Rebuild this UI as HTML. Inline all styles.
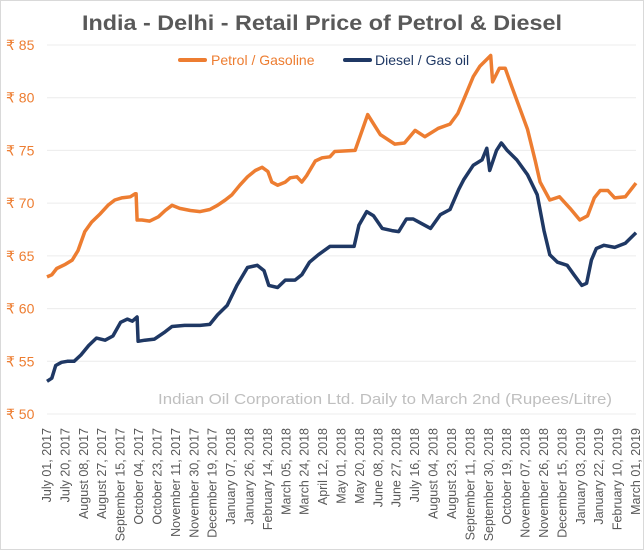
<!DOCTYPE html>
<html><head><meta charset="utf-8"><style>
body{margin:0;background:#fff}
svg{display:block;font-family:"Liberation Sans",sans-serif}
</style></head><body>
<svg id="chart" width="644" height="550" viewBox="0 0 644 550" xmlns="http://www.w3.org/2000/svg">
<rect x="0.5" y="0.5" width="643" height="549" fill="#fff" stroke="#d9d9d9"/>
<text x="82" y="30" textLength="480" lengthAdjust="spacingAndGlyphs" font-size="21" font-weight="bold" fill="#595959">India - Delhi - Retail Price of Petrol &amp; Diesel</text>
<g id="grid"></g><g id="ylab"></g><g id="xlab"></g>
<text x="158" y="404" textLength="454" lengthAdjust="spacingAndGlyphs" font-size="15" fill="#bfbfbf">Indian Oil Corporation Ltd. Daily to March 2nd (Rupees/Litre)</text>
<g id="series"></g>
<g>
<line x1="180" y1="60" x2="205" y2="60" stroke="#ED7D31" stroke-width="4" stroke-linecap="round"/>
<text x="211" y="65" font-size="14" fill="#ED7D31">Petrol / Gasoline</text>
<line x1="345" y1="60" x2="370" y2="60" stroke="#1F3864" stroke-width="4" stroke-linecap="round"/>
<text x="375" y="65" font-size="14" fill="#1F3864">Diesel / Gas oil</text>
</g>
</svg>
<script>
const yTicks=[50,55,60,65,70,75,80,85];
const xTickLabels=["July 01, 2017","July 20, 2017","August 08, 2017","August 27, 2017","September 15, 2017","October 04, 2017","October 23, 2017","November 11, 2017","November 30, 2017","December 19, 2017","January 07, 2018","January 26, 2018","February 14, 2018","March 05, 2018","March 24, 2018","April 12, 2018","May 01, 2018","May 20, 2018","June 08, 2018","June 27, 2018","July 16, 2018","August 04, 2018","August 23, 2018","September 11, 2018","September 30, 2018","October 19, 2018","November 07, 2018","November 26, 2018","December 15, 2018","January 03, 2019","January 22, 2019","February 10, 2019","March 01, 2019"];
const petrolDays=[0,5,10,19,26,32,39,46,55,63,70,77,86,91,92,93,98,106,115,122,129,137,148,158,168,176,184,191,199,207,215,222,228,232,238,246,251,258,263,268,277,284,292,297,318,331,344,359,369,380,390,404,416,424,431,440,447,458,460,467,473,480,488,496,504,509,519,529,540,550,558,565,571,579,586,597,608];
const petrolVals=[63.0,63.2,63.8,64.2,64.6,65.5,67.3,68.2,69.0,69.8,70.3,70.5,70.6,70.9,70.9,68.4,68.4,68.3,68.7,69.3,69.8,69.5,69.3,69.2,69.4,69.8,70.3,70.8,71.7,72.5,73.1,73.4,73.0,72.0,71.7,72.0,72.4,72.5,72.0,72.6,74.0,74.3,74.4,74.9,75.0,78.4,76.5,75.6,75.7,76.9,76.3,77.1,77.5,78.5,80.0,82.0,83.0,84.0,81.5,82.8,82.8,81.0,79.0,77.0,74.0,72.0,70.3,70.6,69.5,68.4,68.8,70.5,71.2,71.2,70.5,70.6,71.9];
const dieselDays=[0,5,9,15,21,28,35,43,51,60,68,76,83,88,93,94,101,111,122,129,142,158,168,176,186,196,207,217,224,229,238,246,256,263,271,280,292,304,317,322,330,337,346,356,363,371,378,386,396,406,416,425,430,440,449,454,457,464,469,470,475,485,496,506,513,519,527,537,544,552,557,562,567,575,586,597,608];
const dieselVals=[53.1,53.4,54.6,54.9,55.0,55.0,55.6,56.5,57.2,57.0,57.4,58.7,59.0,58.8,59.2,56.9,57.0,57.1,57.8,58.3,58.4,58.4,58.5,59.4,60.3,62.2,63.9,64.1,63.6,62.2,62.0,62.7,62.7,63.2,64.4,65.1,65.9,65.9,65.9,67.9,69.2,68.8,67.6,67.4,67.3,68.5,68.5,68.1,67.6,68.9,69.4,71.3,72.2,73.6,74.1,75.2,73.1,75.0,75.7,75.6,75.0,74.1,72.7,70.8,67.4,65.1,64.4,64.1,63.2,62.2,62.4,64.6,65.7,66.0,65.8,66.2,67.2];
const NS="http://www.w3.org/2000/svg";
const x0=47,x1=636,maxDay=608,yTop=45,yBot=414;
const X=d=>x0+(x1-x0)*d/maxDay;
const Y=v=>yBot-(yBot-yTop)*(v-50)/35;
function mk(tag,attrs,parent){const e=document.createElementNS(NS,tag);for(const k in attrs)e.setAttribute(k,attrs[k]);parent.appendChild(e);return e;}
const grid=document.getElementById('grid'),ylab=document.getElementById('ylab'),xlab=document.getElementById('xlab'),ser=document.getElementById('series');
yTicks.forEach(v=>{
 const l=mk('line',{x1:x0,x2:x1,y1:Y(v),y2:Y(v),stroke:'#ececec','stroke-width':1},grid);
 
 
 const t=mk('text',{x:6,y:Y(v)+5,'font-size':14,fill:'#ED7D31'},ylab);
 t.textContent='₹ '+v;
 
 
});
xTickLabels.forEach((s,i)=>{
 const x=X(i*19);
 const t=mk('text',{x:0,y:0,'font-size':12.5,fill:'#595959','text-anchor':'end',transform:`translate(${x+4},428) rotate(-90)`},xlab);
 t.textContent=s;
 
 
});
function line(days,vals,color,name){
 const d=days.map((dd,i)=>(i?'L':'M')+X(dd).toFixed(1)+','+Y(vals[i]).toFixed(1)).join('');
 const p=mk('path',{d:d,fill:'none',stroke:color,'stroke-width':3.5,'stroke-linejoin':'round'},ser);
 
 
}
line(dieselDays,dieselVals,'#1F3864','diesel-line');
line(petrolDays,petrolVals,'#ED7D31','petrol-line');
</script>
</body></html>
